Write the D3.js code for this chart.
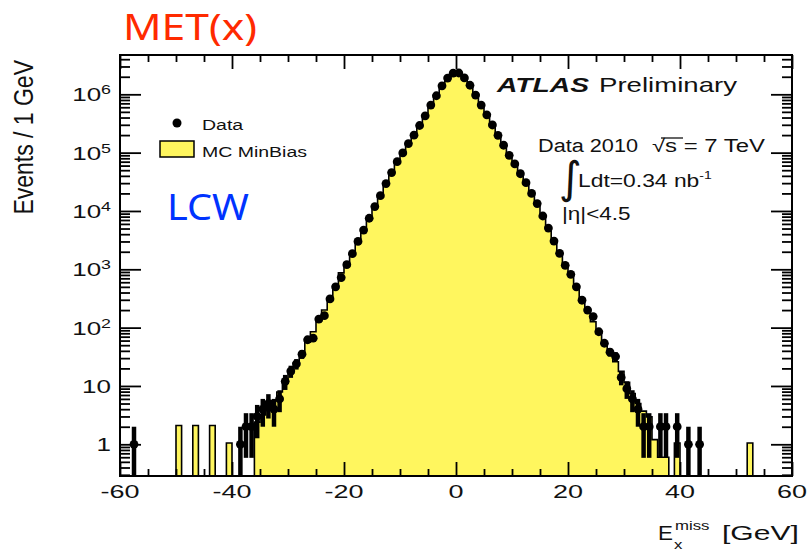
<!DOCTYPE html>
<html>
<head>
<meta charset="utf-8">
<script src="https://cdn.jsdelivr.net/npm/d3@7"></script>
<style>
  body { margin: 0; background: #fff; }
  svg { display: block; }
  text { font-family: "Liberation Sans", Arial, sans-serif; fill: #111; }
</style>
</head>
<body>
<svg id="chart" width="808" height="553"></svg>
<script>
// histogram: 120 bins of 1 GeV from -60 to 60
const binLow = -60;
const binWidth = 1;

// MC MinBias (scaled), one value per bin, rows of 10 bins
const mcCounts = [
  0, 0, 0, 0, 0, 0, 0, 0, 0, 0,
  2.1, 0, 0, 2.1, 0, 0, 2.1, 0, 0, 1.05,
  0, 0, 0, 0, 2.4, 3.2, 4.2, 5.6, 7.9, 11.2,
  16.6, 25, 37, 56, 85, 129, 200, 316, 525, 870,
  1290, 1900, 2950, 4800, 7600, 11700, 18600, 29000, 46000, 69000,
  100000, 141000, 200000, 290000, 430000, 650000, 950000, 1410000, 1910000, 2340000,
  2360000, 1930000, 1440000, 980000, 650000, 450000, 295000, 200000, 132000, 91000,
  63000, 44000, 30000, 20500, 13200, 8300, 5000, 3000, 1860, 1200,
  800, 500, 316, 200, 126, 79, 54, 37, 26, 17.8,
  11.5, 7.4, 5.0, 3.7, 2.95, 1.2, 0.6, 0.6, 0, 1.05,
  0, 0, 0, 0, 0, 0, 0, 0, 0, 0,
  0, 0, 1.05, 0, 0, 0, 0, 0, 0, 0
];

// Data 2010, events per bin
const dataCounts = [
  0, 0, 1, 0, 0, 0, 0, 0, 0, 0,
  0, 0, 0, 0, 0, 0, 0, 0, 0, 0,
  0, 1, 2, 2, 3, 4, 5, 4, 6, 12,
  18, 24, 35, 62, 66, 140, 160, 310, 500, 720,
  1200, 1850, 3000, 4700, 7500, 11900, 18300, 29500, 45500, 70000,
  99000, 143000, 199000, 292000, 428000, 655000, 945000, 1400000, 1900000, 2300000,
  2320000, 1910000, 1430000, 970000, 655000, 445000, 298000, 198000, 134000, 90000,
  64000, 43500, 30500, 20000, 13400, 8200, 5100, 3050, 1880, 1170,
  820, 500, 295, 200, 155, 85, 54, 38, 32, 14,
  9, 6, 4, 2, 2, 0, 2, 2, 0, 2,
  0, 1, 0, 1, 0, 0, 0, 0, 0, 0,
  0, 0, 0, 0, 0, 0, 0, 0, 0, 0
];

const xMajor = [-60, -40, -20, 0, 20, 40, 60];
const xMinor = d3.range(-55, 60, 5).filter(v => v % 20 !== 0);
const yExponents = [0, 1, 2, 3, 4, 5, 6];
const yRange = [0.286, 4.72e6];

const svg = d3.select("#chart");
const pLeft = 120, pRight = 792, pTop = 55, pBottom = 476;

const x = d3.scaleLinear().domain([binLow, binLow + mcCounts.length * binWidth]).range([pLeft, pRight]);
const y = d3.scaleLog().domain(yRange).range([pBottom, pTop]);

const yMajor = yExponents.map(e => Math.pow(10, e));
const yMinor = [];
for (let e = -1; e <= 6; e++) {
  for (let k = 2; k <= 9; k++) {
    const v = k * Math.pow(10, e);
    if (v >= yRange[0] && v <= yRange[1]) yMinor.push(v);
  }
}

const yellow = "#fff65e";

svg.append("defs").append("clipPath").attr("id", "plotclip")
  .append("rect").attr("x", pLeft).attr("y", pTop)
  .attr("width", pRight - pLeft).attr("height", pBottom - pTop);

// MC histogram as a step outline
const yClamp = v => y(Math.max(v, yRange[0]));
const steps = [[x(binLow), y(yRange[0])]];
mcCounts.forEach((v, i) => {
  const lo = binLow + i * binWidth;
  steps.push([x(lo), yClamp(v)]);
  steps.push([x(lo + binWidth), yClamp(v)]);
});
steps.push([x(binLow + mcCounts.length * binWidth), y(yRange[0])]);

svg.append("path")
  .attr("clip-path", "url(#plotclip)")
  .attr("d", d3.line()(steps) + "Z")
  .attr("fill", yellow)
  .attr("stroke", "#000")
  .attr("stroke-width", 1.6)
  .attr("stroke-linejoin", "miter");

// data points with sqrt(n) errors
const pts = dataCounts
  .map((n, i) => ({ c: binLow + (i + 0.5) * binWidth, n: n }))
  .filter(d => d.n > 0);

const gData = svg.append("g").attr("clip-path", "url(#plotclip)");
gData.selectAll(".ev").data(pts).enter().append("line")
  .attr("x1", d => x(d.c)).attr("x2", d => x(d.c))
  .attr("y1", d => y(d.n + Math.sqrt(d.n)))
  .attr("y2", d => yClamp(d.n - Math.sqrt(d.n)))
  .attr("stroke", "#000").attr("stroke-width", 4.5);
gData.selectAll(".eh").data(pts).enter().append("line")
  .attr("x1", d => x(d.c - binWidth / 2)).attr("x2", d => x(d.c + binWidth / 2))
  .attr("y1", d => y(d.n)).attr("y2", d => y(d.n))
  .attr("stroke", "#000").attr("stroke-width", 2.5);
gData.selectAll("circle").data(pts).enter().append("circle")
  .attr("cx", d => x(d.c)).attr("cy", d => y(d.n))
  .attr("r", 4.4).attr("fill", "#000");

// ticks on all four sides
function ticks(axis, tr, len) {
  const g = svg.append("g").attr("transform", tr)
    .call(axis.tickSizeInner(-len).tickSizeOuter(0).tickFormat(""));
  g.select(".domain").remove();
  g.selectAll("line").attr("stroke", "#000").attr("stroke-width", 1.8);
}
ticks(d3.axisBottom(x).tickValues(xMajor), `translate(0,${pBottom})`, 14);
ticks(d3.axisBottom(x).tickValues(xMinor), `translate(0,${pBottom})`, 7);
ticks(d3.axisTop(x).tickValues(xMajor), `translate(0,${pTop})`, 14);
ticks(d3.axisTop(x).tickValues(xMinor), `translate(0,${pTop})`, 7);
ticks(d3.axisLeft(y).tickValues(yMajor), `translate(${pLeft},0)`, 21);
ticks(d3.axisLeft(y).tickValues(yMinor), `translate(${pLeft},0)`, 10);
ticks(d3.axisRight(y).tickValues(yMajor), `translate(${pRight},0)`, 21);
ticks(d3.axisRight(y).tickValues(yMinor), `translate(${pRight},0)`, 10);

svg.append("rect")
  .attr("x", pLeft).attr("y", pTop)
  .attr("width", pRight - pLeft).attr("height", pBottom - pTop)
  .attr("fill", "none").attr("stroke", "#000").attr("stroke-width", 2);

// the plot was stretched sideways, so its texts are too
function stext(px, py, size, sx, anchor) {
  return svg.append("text")
    .attr("transform", `translate(${px},${py}) scale(${sx},1)`)
    .attr("font-size", size)
    .attr("text-anchor", anchor || "start");
}

xMajor.forEach(v => {
  stext(x(v), 498, 19, 1.42, "middle").text(v);
});

yExponents.forEach(e => {
  const t = stext(111, y(Math.pow(10, e)) + 7, 19, 1.37, "end");
  if (e === 0) t.text("1");
  else if (e === 1) t.text("10");
  else {
    t.append("tspan").text("10");
    t.append("tspan").attr("font-size", 13).attr("dy", -7).text(e);
  }
});

// axis titles
svg.append("text")
  .attr("transform", "translate(33,60) rotate(-90) scale(1,1.2)")
  .attr("font-size", 23).attr("text-anchor", "end")
  .text("Events / 1 GeV");

stext(658, 540, 21, 1.07).text("E");
stext(674, 549, 12, 1.4).text("x");
stext(675, 530, 12, 1.4).text("miss");
stext(722, 540, 21, 1.43).text("[GeV]");

// legend
svg.append("circle").attr("cx", 177).attr("cy", 123).attr("r", 4.5).attr("fill", "#000");
stext(202, 130, 15, 1.3).text("Data");
svg.append("rect").attr("x", 160).attr("y", 141).attr("width", 34).attr("height", 16)
  .attr("fill", yellow).attr("stroke", "#000").attr("stroke-width", 1.5);
stext(202, 157, 15, 1.3).text("MC MinBias");

// ATLAS label
svg.append("text").attr("x", 497).attr("y", 92).attr("font-size", 21)
  .attr("font-weight", "bold").attr("font-style", "italic")
  .attr("textLength", 92).attr("lengthAdjust", "spacingAndGlyphs").text("ATLAS");
svg.append("text").attr("x", 599).attr("y", 92).attr("font-size", 21)
  .attr("textLength", 138).attr("lengthAdjust", "spacingAndGlyphs").text("Preliminary");

svg.append("text").attr("x", 538).attr("y", 152).attr("font-size", 18)
  .attr("textLength", 100).attr("lengthAdjust", "spacingAndGlyphs").text("Data 2010");
svg.append("text").attr("x", 652).attr("y", 152).attr("font-size", 18)
  .attr("textLength", 113).attr("lengthAdjust", "spacingAndGlyphs").text("\u221As = 7 TeV");
svg.append("line").attr("x1", 661).attr("x2", 683).attr("y1", 138).attr("y2", 138)
  .attr("stroke", "#111").attr("stroke-width", 1.3);

svg.append("text").attr("x", 559).attr("y", 193).attr("font-size", 44)
  .style("font-family", "'DejaVu Sans'").text("\u222B");
const lum = stext(578, 187, 18, 1.27);
lum.append("tspan").text("Ldt=0.34 nb");
lum.append("tspan").attr("font-size", 11).attr("dy", -8).text("-1");
stext(562, 220, 18, 1.25).text("|\u03B7|<4.5");

// slide annotations
svg.append("text").attr("x", 123).attr("y", 40).attr("font-size", 37)
  .style("font-family", "'Noto Sans'").style("fill", "#ff2a00")
  .attr("textLength", 134).attr("lengthAdjust", "spacingAndGlyphs").text("MET(x)");
svg.append("text").attr("x", 167).attr("y", 220).attr("font-size", 37)
  .style("font-family", "'Noto Sans'").style("fill", "#0033ff")
  .attr("textLength", 82).attr("lengthAdjust", "spacingAndGlyphs").text("LCW");
</script>
</body>
</html>
